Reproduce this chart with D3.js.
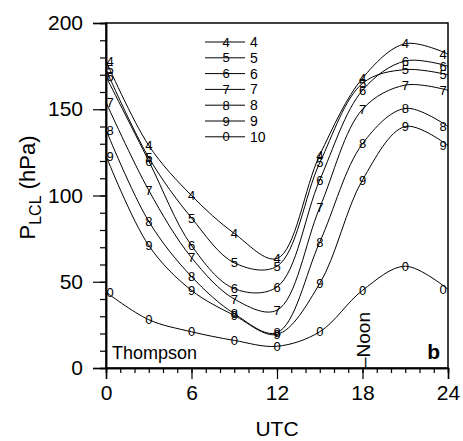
<!DOCTYPE html>
<html>
<head>
<meta charset="utf-8">
<script src="https://d3js.org/d3.v7.min.js"></script>
<style>
  body { margin: 0; background: #fff; }
  text { font-family: "Liberation Sans", Arial, sans-serif; fill: #000; }
</style>
</head>
<body>
<svg width="463" height="441"></svg>
<script>
// Overall dimension of the canvas
const width = 463, height = 441;
const margin = {top: 23, right: 15, bottom: 73, left: 106};
const plotW = width - margin.left - margin.right,
      plotH = height - margin.top - margin.bottom;

// Data (P_LCL in hPa, every 3 h UTC)
const hours = [0, 3, 6, 9, 12, 15, 18, 21, 24];
const p4  = [178, 129, 100, 78, 63.5, 123.5, 168, 188, 182];
const p5  = [173, 122, 87, 61, 59, 119, 165, 173, 170];
const p6  = [169, 120, 71, 46, 47, 109, 161, 178, 175];
const p7  = [154, 103, 64, 40, 33.5, 93, 150, 164, 161];
const p8  = [138, 85, 53, 31.5, 20.5, 73, 130, 150.5, 140];
const p9  = [123, 71, 45, 30.5, 19.5, 49, 109, 140, 129];
const p10 = [44, 28, 21, 16, 12.6, 21, 45, 59, 45.6];

const seriesNames = ["4", "5", "6", "7", "8", "9", "10"];
const seriesMarks = ["4", "5", "6", "7", "8", "9", "0"];
const seriesValues = [p4, p5, p6, p7, p8, p9, p10];

const xTicks = [0, 6, 12, 18, 24];
const yTicks = [0, 50, 100, 150, 200];

const svg = d3.select("svg");
const g = svg.append("g")
    .attr("transform", `translate(${margin.left}, ${margin.top})`);

const x = d3.scaleLinear().domain([0, 24]).range([0, plotW]);
const y = d3.scaleLinear().domain([0, 200]).range([plotH, 0]);

// Minor ticks
const xAxisMinor = d3.axisBottom(x).tickValues(d3.range(0, 25, 1)).tickSize(5).tickFormat("");
const yAxisMinor = d3.axisLeft(y).tickValues(d3.range(0, 201, 10)).tickSize(6).tickFormat("");
g.append("g").attr("transform", `translate(0, ${plotH})`).call(xAxisMinor);
g.append("g").call(yAxisMinor);

// Major ticks with labels
g.append("g")
    .attr("transform", `translate(0, ${plotH})`)
    .call(d3.axisBottom(x).tickValues(xTicks).tickSize(11).tickPadding(6))
    .call(a => a.selectAll("text").style("font-size", "21px"));
g.append("g")
    .call(d3.axisLeft(y).tickValues(yTicks).tickSize(13).tickPadding(10))
    .call(a => a.selectAll("text").style("font-size", "21px"));

g.selectAll(".domain").attr("stroke-width", 1.5);
g.selectAll(".tick line").attr("stroke-width", 1.2);

// Frame top and right
g.append("rect")
    .attr("width", plotW).attr("height", plotH)
    .attr("fill", "none").attr("stroke", "#000").attr("stroke-width", 1.5);

// Lines
const line = d3.line()
    .x((d, i) => x(hours[i]))
    .y(d => y(d))
    .curve(d3.curveCatmullRom);

g.selectAll("path.series")
    .data(seriesValues)
    .join("path")
    .attr("class", "series")
    .attr("d", line)
    .attr("fill", "none")
    .attr("stroke", "#000")
    .attr("stroke-width", 1);

// Digit markers every 3 h
seriesValues.forEach((vals, s) => {
    g.selectAll(null)
        .data(vals)
        .join("text")
        .attr("x", (d, i) => Math.min(plotW - 5, Math.max(4, x(hours[i]))))
        .attr("y", d => y(d))
        .attr("dy", "0.36em")
        .attr("text-anchor", "middle")
        .style("font-size", "13px")
        .text(seriesMarks[s]);
});

// Legend
const legend = svg.append("g");
seriesNames.forEach((name, i) => {
    const ly = 42 + i * 15.8;
    legend.append("line")
        .attr("x1", 205).attr("x2", 245).attr("y1", ly).attr("y2", ly)
        .attr("stroke", "#000").attr("stroke-width", 1);
    legend.append("text")
        .attr("x", 226).attr("y", ly).attr("dy", "0.36em")
        .attr("text-anchor", "middle").style("font-size", "13px")
        .text(seriesMarks[i]);
    legend.append("text")
        .attr("x", 250).attr("y", ly).attr("dy", "0.36em")
        .style("font-size", "14px")
        .text(name);
});

// Annotations
g.append("text")
    .attr("x", 6).attr("y", plotH - 9)
    .style("font-size", "18px")
    .text("Thompson");
g.append("text")
    .attr("x", plotW - 8).attr("y", plotH - 9)
    .attr("text-anchor", "end")
    .style("font-size", "21px").style("font-weight", "bold")
    .text("b");
g.append("text")
    .attr("transform", `translate(${x(18) + 7}, ${plotH}) rotate(-90)`)
    .style("font-size", "19px")
    .text("\u2013Noon");

// Axis titles
svg.append("text")
    .attr("x", margin.left + plotW / 2).attr("y", height - 5)
    .attr("text-anchor", "middle")
    .style("font-size", "21px")
    .text("UTC");

const yTitle = svg.append("text")
    .attr("transform", `translate(35, ${margin.top + plotH / 2 - 8}) rotate(-90)`)
    .attr("text-anchor", "middle")
    .style("font-size", "22px");
yTitle.append("tspan").text("P");
yTitle.append("tspan").attr("dy", 6).style("font-size", "16px").text("LCL");
yTitle.append("tspan").attr("dy", -6).text(" (hPa)");
</script>
</body>
</html>
